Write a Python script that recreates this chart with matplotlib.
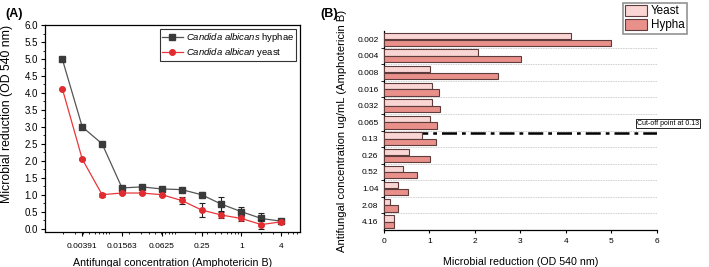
import matplotlib
matplotlib.use("Agg")
import matplotlib.pyplot as plt
from matplotlib.ticker import FixedLocator, MultipleLocator, NullFormatter, LogLocator
import numpy as np

plt.rcParams["font.family"] = ["Liberation Sans", "DejaVu Sans"]
plt.rcParams["mathtext.fontset"] = "custom"
plt.rcParams["mathtext.rm"] = "Liberation Sans"
plt.rcParams["mathtext.it"] = "Liberation Sans:italic"

# panel A: two-fold dilutions of Amphotericin B
conc = [0.00195, 0.00391, 0.00781, 0.01563, 0.03125, 0.0625, 0.125, 0.25, 0.5, 1, 2, 4]
hyphae = [5.0, 3.0, 2.5, 1.2, 1.23, 1.17, 1.15, 1.0, 0.72, 0.5, 0.3, 0.22]
hyphae_err = [0.0, 0.0, 0.0, 0.06, 0.03, 0.03, 0.03, 0.08, 0.2, 0.13, 0.15, 0.03]
yeast = [4.13, 2.05, 1.0, 1.05, 1.05, 1.0, 0.83, 0.55, 0.4, 0.3, 0.12, 0.2]
yeast_err = [0.0, 0.03, 0.06, 0.03, 0.03, 0.03, 0.1, 0.2, 0.1, 0.07, 0.13, 0.03]
a_ticks = [0.00391, 0.01563, 0.0625, 0.25, 1, 4]
a_ticklabels = ["0.00391", "0.01563", "0.0625", "0.25", "1", "4"]

# panel B: same readings as bars
b_labels = ["0.002", "0.004", "0.008", "0.016", "0.032", "0.065",
            "0.13", "0.26", "0.52", "1.04", "2.08", "4.16"]
b_yeast = [4.12, 2.06, 1.01, 1.05, 1.05, 1.01, 0.83, 0.55, 0.41, 0.31, 0.13, 0.21]
b_hypha = [5.0, 3.01, 2.51, 1.2, 1.23, 1.17, 1.15, 1.01, 0.72, 0.52, 0.31, 0.22]
cutoff_pos = 5.62

fig = plt.figure(figsize=(7.09, 2.67), dpi=100)

# ---------------- (A)
ax = fig.add_axes([0.0635, 0.131, 0.3597, 0.775])
for vals, errs, col, mk, lab, z in [
        (hyphae, hyphae_err, "#555555", "s", r"$\it{Candida\ albicans}$ hyphae", 3),
        (yeast, yeast_err, "#e8373a", "o", r"$\it{Candida\ albican}$ yeast", 4)]:
    mcol = "#3a3a3a" if mk == "s" else "#e02c30"
    ax.errorbar(conc, vals, yerr=errs, fmt="none", ecolor="#222222", elinewidth=0.8,
                capsize=2, capthick=0.8, zorder=z)
    ax.plot(conc, vals, color=col, marker=mk, ms=4, mfc=mcol, mec=mcol, lw=0.9,
            label=lab, zorder=z + 0.5)
ax.set_xscale("log", base=2)
ax.set_xlim(2 ** -9.87, 2 ** 2.95)
ax.set_ylim(-0.1, 6.0)
ax.xaxis.set_major_locator(FixedLocator(a_ticks))
ax.set_xticklabels(a_ticklabels)
ax.xaxis.set_minor_locator(LogLocator(base=10, subs=np.arange(1, 10) * 1.0, numticks=20))
ax.xaxis.set_minor_formatter(NullFormatter())
ax.yaxis.set_minor_locator(MultipleLocator(0.25))
ax.set_yticks(np.arange(0, 6.01, 0.5))
ax.set_yticklabels([f"{v:.1f}" for v in np.arange(0, 6.01, 0.5)])
ax.tick_params(axis="x", which="major", direction="out", length=3, width=0.8, labelsize=6, pad=5)
ax.tick_params(axis="y", which="major", direction="out", length=3, width=0.8, labelsize=7, pad=2)
ax.tick_params(which="minor", direction="out", length=1.6, width=0.6)
for s in ax.spines.values():
    s.set_linewidth(0.9)
ax.set_xlabel("Antifungal concentration (Amphotericin B)", fontsize=7.7)
ax.xaxis.set_label_coords(0.5, -0.125)
ax.set_ylabel("Microbial reduction (OD 540 nm)", fontsize=8.8)
ax.yaxis.set_label_coords(-0.125, 0.57)
leg = ax.legend(loc="upper right", fontsize=6.8, frameon=True, fancybox=False,
                borderaxespad=0.4, borderpad=0.25, handlelength=2.2, labelspacing=0.2,
                handletextpad=0.3)
leg.get_frame().set_edgecolor("black")
leg.get_frame().set_linewidth(0.8)
fig.text(0.007, 0.935, "(A)", fontsize=9, fontweight="bold")

# ---------------- (B)
bx = fig.add_axes([0.5416, 0.1386, 0.385, 0.745])
pos = np.arange(len(b_labels))
bx.axhline(cutoff_pos, xmin=0, xmax=1, color="black", lw=1.8,
           linestyle=(0, (6, 2, 1.5, 2)), zorder=1)
bx.barh(pos - 0.2, b_yeast, height=0.38, color="#f9d6d3", edgecolor="#5e3c3c",
        linewidth=0.8, label="Yeast", zorder=3)
bx.barh(pos + 0.2, b_hypha, height=0.38, color="#e9908b", edgecolor="#5e3c3c",
        linewidth=0.8, label="Hypha", zorder=3)
bx.set_ylim(len(b_labels) - 0.5, -0.5)
bx.set_xlim(0, 6)
bx.set_yticks(pos)
bx.set_yticklabels(b_labels)
bx.yaxis.set_minor_locator(FixedLocator(pos[:-1] + 0.5))
bx.grid(axis="y", which="minor", color="#bbbbbb", linestyle=(0, (1, 1)), linewidth=0.6)
bx.set_axisbelow(True)
bx.xaxis.set_major_locator(MultipleLocator(1))
bx.tick_params(axis="y", which="major", length=0, labelsize=6, pad=4)
bx.tick_params(axis="y", which="minor", direction="out", length=2, width=0.6)
bx.tick_params(axis="x", which="major", direction="out", length=2.5, width=0.8, labelsize=6, pad=3)
bx.spines["top"].set_visible(False)
bx.spines["right"].set_visible(False)
bx.spines["left"].set_linewidth(0.9)
bx.spines["bottom"].set_linewidth(0.9)
bx.set_xlabel("Microbial reduction (OD 540 nm)", fontsize=7.7)
bx.xaxis.set_label_coords(0.5, -0.135)
bx.set_ylabel("Antifungal concentration ug/mL (Amphotericin B)", fontsize=8.1)
bx.yaxis.set_label_coords(-0.136, 0.5)
bx.text(0.927, 0.535, "Cut-off point at 0.13", transform=bx.transAxes, fontsize=5,
        ha="left", va="center", clip_on=False,
        bbox=dict(boxstyle="square,pad=0.15", fc="white", ec="black", lw=0.6))
bleg = bx.legend(loc="upper right", bbox_to_anchor=(0.969, 0.989),
                 bbox_transform=fig.transFigure, fontsize=8.4, frameon=True,
                 fancybox=False, borderpad=0.2, handlelength=1.9, handleheight=1.0,
                 labelspacing=0.15, handletextpad=0.3, borderaxespad=0)
bleg.get_frame().set_edgecolor("#777777")
bleg.get_frame().set_linewidth(1.2)
fig.text(0.452, 0.935, "(B)", fontsize=9, fontweight="bold")

fig.savefig("out.png", dpi=100)
